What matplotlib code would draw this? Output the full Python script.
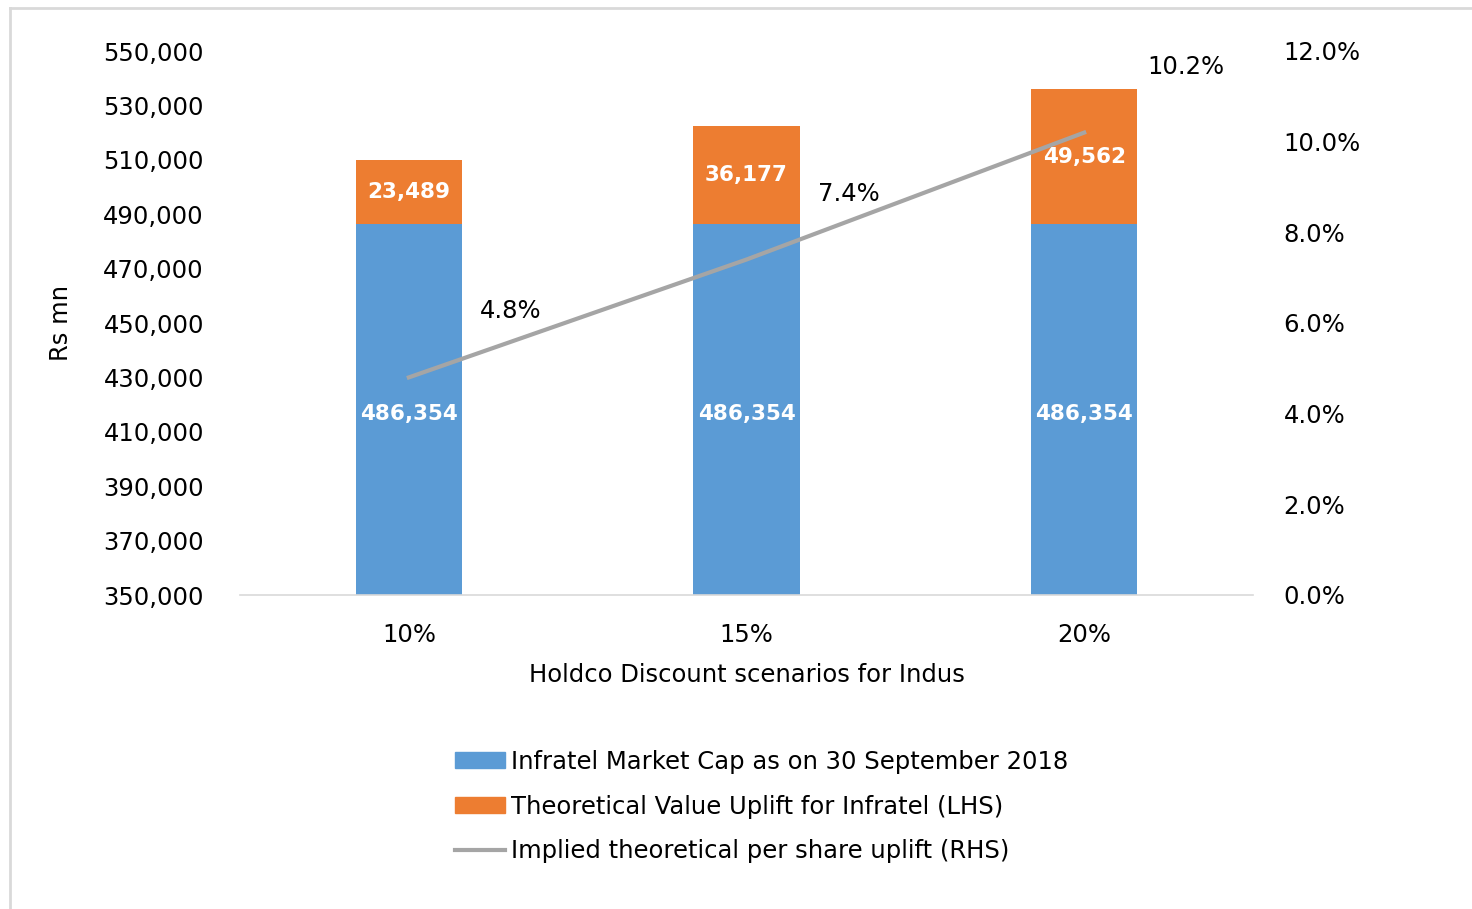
import matplotlib
matplotlib.use("Agg")
import matplotlib.pyplot as plt
from matplotlib.lines import Line2D
from matplotlib.patches import Patch
from matplotlib.ticker import FuncFormatter

scenarios = ['10%', '15%', '20%']
market_cap = [486354, 486354, 486354]
value_uplift = [23489, 36177, 49562]
share_uplift = [4.8, 7.4, 10.2]

blue = '#5B9BD5'
orange = '#ED7D31'
grey = '#A5A5A5'

plt.rcParams['font.family'] = ['DejaVu Sans']
fs = 17.5

fig = plt.figure(figsize=(14.72, 9.09), dpi=100)
ax = fig.add_axes([240 / 1472, 1 - 595 / 909, 1013 / 1472, 544 / 909])
ax2 = ax.twinx()

x = list(range(len(scenarios)))
ax.bar(x, market_cap, width=0.315, color=blue, zorder=2)
ax.bar(x, value_uplift, bottom=market_cap, width=0.315, color=orange, zorder=2)

ax.set_ylim(350000, 550000)
ax.set_yticks(range(350000, 550001, 20000))
ax.yaxis.set_major_formatter(FuncFormatter(lambda v, p: f'{v:,.0f}'))
ax.set_xlim(-0.5, 2.5)
ax.set_xticks(x)
ax.set_xticklabels(scenarios)
ax.tick_params(axis='y', length=0, pad=26, labelsize=fs)
ax.tick_params(axis='x', length=0, pad=20, labelsize=fs)
ax.set_ylabel('Rs mn', fontsize=fs, labelpad=22)
ax.set_xlabel('Holdco Discount scenarios for Indus', fontsize=fs, labelpad=12)
for s in ['top', 'right', 'left']:
    ax.spines[s].set_visible(False)
ax.spines['bottom'].set_color('#D9D9D9')
ax.spines['bottom'].set_linewidth(1.2)

for i in x:
    ax.text(i, 350000 + (market_cap[i] - 350000) / 2 - 1500, f'{market_cap[i]:,}',
            ha='center', va='center', color='white', fontsize=15.5, fontweight='bold', zorder=3)
    ax.text(i, market_cap[i] + value_uplift[i] / 2, f'{value_uplift[i]:,}',
            ha='center', va='center', color='white', fontsize=15.5, fontweight='bold', zorder=3)

ax2.plot(x, share_uplift, color=grey, linewidth=3, zorder=4)
ax2.set_ylim(0, 12)
ax2.set_yticks(range(0, 13, 2))
ax2.yaxis.set_major_formatter(FuncFormatter(lambda v, p: f'{v:.1f}%'))
ax2.tick_params(axis='y', length=0, pad=22, labelsize=fs)
for s in ax2.spines.values():
    s.set_visible(False)
for i in x:
    ax2.annotate(f'{share_uplift[i]}%', (i, share_uplift[i]), xytext=(102, 66),
                 textcoords='offset pixels', ha='center', va='center', fontsize=fs)

handles = [Patch(color=blue), Patch(color=orange), Line2D([], [], color=grey, linewidth=3)]
labels = ['Infratel Market Cap as on 30 September 2018',
          'Theoretical Value Uplift for Infratel (LHS)',
          'Implied theoretical per share uplift (RHS)']
fig.legend(handles, labels, loc='upper left', bbox_to_anchor=(433 / 1472, 1 - 728 / 909),
           frameon=False, fontsize=fs, handlelength=2.05, handleheight=0.65,
           handletextpad=0.25, labelspacing=0.85)

# outer chart border
fig.add_artist(Line2D([10 / 1472, 1], [1 - 8 / 909, 1 - 8 / 909], color='#D9D9D9', linewidth=2))
fig.add_artist(Line2D([10 / 1472, 10 / 1472], [0, 1 - 8 / 909], color='#D9D9D9', linewidth=2))

fig.savefig('out.png', dpi=100)
